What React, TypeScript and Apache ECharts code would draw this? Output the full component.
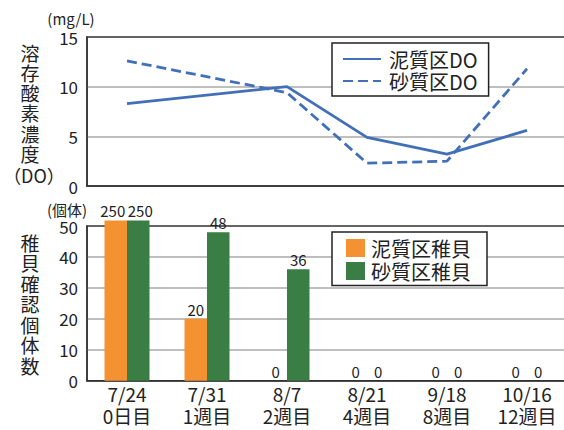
import React, { useEffect, useRef } from "react";
import * as echarts from "echarts";

const dates = ["7/24", "7/31", "8/7", "8/21", "9/18", "10/16"];
const weeks = ["0日目", "1週目", "2週目", "4週目", "8週目", "12週目"];
const mudDO: (number | null)[] = [8.3, null, 10.0, 4.9, 3.2, 5.6];
const sandDO: (number | null)[] = [12.6, null, 9.4, 2.3, 2.5, 11.8];
const mudJuvenile = [250, 20, 0, 0, 0, 0];
const sandJuvenile = [250, 48, 36, 0, 0, 0];
const doTicks = { min: 0, max: 15, interval: 5 };
const countTicks = { min: 0, max: 50, interval: 10 };
const barDisplayCap = 51.8;

const FONT = "'Noto Sans CJK JP', 'Noto Sans', sans-serif";
const BLUE = "#4270b8";
const ORANGE = "#f49232";
const GREEN = "#3a7d45";
const TEXT = "#222";

export default function App() {
  const ref = useRef<HTMLDivElement>(null);
  useEffect(() => {
    if (!ref.current) return;
    const chart = echarts.init(ref.current, undefined, { renderer: "svg" });
    const cats = dates.map((d, i) => d + "\n" + weeks[i]);
    const capped = (arr: number[], dx: number) =>
      arr.map((v) =>
        v > barDisplayCap
          ? { value: barDisplayCap, raw: v, label: { offset: [dx, 0] } }
          : { value: v, raw: v }
      );
    const barLabel = {
      show: true,
      position: "top",
      distance: 2,
      fontSize: 15,
      color: TEXT,
      fontFamily: FONT,
      formatter: (p: any) => String(p.data.raw),
    };
    const vText = (chars: string, x: number, y0: number, step: number) =>
      chars.split("").map((c, i) => ({
        type: "text",
        x,
        y: y0 + i * step,
        style: {
          text: c,
          font: `19px ${FONT}`,
          fill: TEXT,
          align: "center",
          verticalAlign: "middle",
        },
      }));
    chart.setOption({
      animation: false,
      textStyle: { fontFamily: FONT },
      grid: [
        { left: 87, top: 37, width: 480, height: 149, show: true, borderColor: "#333", borderWidth: 1.5 },
        { left: 87, top: 226, width: 480, height: 154.7, show: true, borderColor: "#333", borderWidth: 1.5 },
      ],
      xAxis: [
        {
          type: "category",
          gridIndex: 0,
          data: cats,
          axisLine: { lineStyle: { color: "#333", width: 1.5 } },
          axisTick: { inside: true, length: 7, lineStyle: { color: "#333", width: 1.2 } },
          axisLabel: { show: false },
        },
        {
          type: "category",
          gridIndex: 1,
          data: cats,
          axisLine: { lineStyle: { color: "#333", width: 1.5 } },
          axisTick: { inside: true, length: 7, lineStyle: { color: "#333", width: 1.2 } },
          axisLabel: { fontSize: 19, lineHeight: 22, color: TEXT, margin: 2, fontFamily: FONT, interval: 0 },
        },
      ],
      yAxis: [
        {
          type: "value",
          gridIndex: 0,
          ...doTicks,
          axisLine: { show: true, lineStyle: { color: "#333", width: 1.5 } },
          axisTick: { show: false },
          axisLabel: { fontSize: 17, color: TEXT, margin: 9, fontFamily: FONT },
          splitLine: { show: true, showMinLine: false, showMaxLine: false, lineStyle: { color: "#aaa", width: 1.5 } },
        },
        {
          type: "value",
          gridIndex: 1,
          ...countTicks,
          axisLine: { show: true, lineStyle: { color: "#333", width: 1.5 } },
          axisTick: { show: false },
          axisLabel: { fontSize: 17, color: TEXT, margin: 9, fontFamily: FONT },
          splitLine: { show: true, showMinLine: false, showMaxLine: false, lineStyle: { color: "#aaa", width: 1.5 } },
        },
      ],
      legend: [
        {
          data: ["泥質区DO", "砂質区DO"],
          orient: "vertical",
          left: 332,
          top: 43,
          itemWidth: 38,
          itemHeight: 14,
          itemGap: 0,
          padding: [5, 11, 4, 10],
          borderColor: "#222",
          borderWidth: 1.5,
          backgroundColor: "#fff",
          itemStyle: { color: "rgba(0,0,0,0)", borderColor: "rgba(0,0,0,0)", borderWidth: 0, opacity: 0 },
          textStyle: { fontSize: 20, lineHeight: 22, color: TEXT, fontFamily: FONT, padding: [0, 0, 0, 3] },
        },
        {
          data: ["泥質区稚貝", "砂質区稚貝"],
          orient: "vertical",
          left: 332,
          top: 232,
          itemWidth: 19,
          itemHeight: 18,
          itemGap: 0,
          icon: "rect",
          padding: [4.5, 16, 3, 14],
          borderColor: "#222",
          borderWidth: 1.5,
          backgroundColor: "#fff",
          textStyle: { fontSize: 20, lineHeight: 23, color: TEXT, fontFamily: FONT, padding: [0, 0, 0, 1] },
        },
      ],
      series: [
        {
          name: "泥質区DO",
          type: "line",
          xAxisIndex: 0,
          yAxisIndex: 0,
          data: mudDO,
          connectNulls: true,
          symbol: "none",
          lineStyle: { color: BLUE, width: 2.8 },
          itemStyle: { color: BLUE },
          z: 5,
        },
        {
          name: "砂質区DO",
          type: "line",
          xAxisIndex: 0,
          yAxisIndex: 0,
          data: sandDO,
          connectNulls: true,
          symbol: "none",
          lineStyle: { color: BLUE, width: 2.8, type: [10, 5] },
          itemStyle: { color: BLUE },
          z: 5,
        },
        {
          name: "泥質区稚貝",
          type: "bar",
          xAxisIndex: 1,
          yAxisIndex: 1,
          data: capped(mudJuvenile, -3),
          barWidth: 22.5,
          barGap: "0%",
          clip: false,
          itemStyle: { color: ORANGE },
          label: barLabel,
        },
        {
          name: "砂質区稚貝",
          type: "bar",
          xAxisIndex: 1,
          yAxisIndex: 1,
          data: capped(sandJuvenile, 2),
          barWidth: 22.5,
          barGap: "0%",
          clip: false,
          itemStyle: { color: GREEN },
          label: barLabel,
        },
      ],
      graphic: [
        { type: "text", x: 71, y: 18, style: { text: "(mg/L)", font: `15px ${FONT}`, fill: TEXT, align: "center", verticalAlign: "middle" } },
        { type: "text", x: 67, y: 209, style: { text: "(個体)", font: `15px ${FONT}`, fill: TEXT, align: "center", verticalAlign: "middle" } },
        ...vText("溶存酸素濃度", 30, 52, 20.3),
        { type: "text", x: 34, y: 175, style: { text: "（DO）", font: `18px ${FONT}`, fill: TEXT, align: "center", verticalAlign: "middle" } },
        ...vText("稚貝確認個体数", 30, 242, 20.5),
      ],
    });
    return () => chart.dispose();
  }, []);
  return (
    <div style={{ position: "fixed", left: 0, top: 0, width: 564, height: 430, overflow: "hidden", background: "#fff" }}>
      <div ref={ref} style={{ width: 570, height: 430 }} />
    </div>
  );
}
